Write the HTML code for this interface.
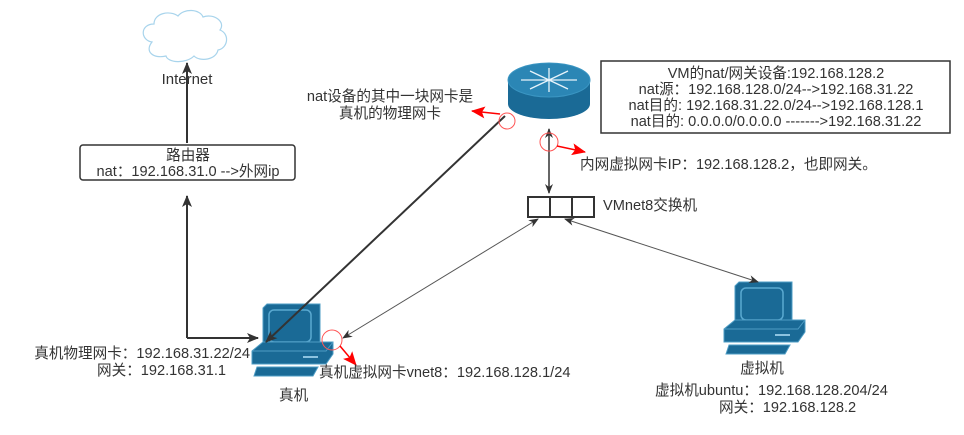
<!DOCTYPE html>
<html><head><meta charset="utf-8"><style>
body{margin:0;background:#fff;}
svg{display:block;}
text{font-family:"Liberation Sans","Noto Sans CJK SC",sans-serif;font-size:14.6px;fill:#333;}
</style></head><body>
<svg width="964" height="435" viewBox="0 0 964 435">
<defs>
<marker id="ak" markerWidth="10" markerHeight="10" refX="9" refY="5" orient="auto-start-reverse" markerUnits="userSpaceOnUse"><path d="M0,1 L10,5 L0,9 L3,5 Z" fill="#333"/></marker>
<marker id="akr" markerWidth="12" markerHeight="12" refX="11" refY="6" orient="auto" markerUnits="userSpaceOnUse"><path d="M0,1 L12,6 L0,11 L3,6 Z" fill="#333"/></marker>
<marker id="ar" markerWidth="14" markerHeight="12" refX="13" refY="6" orient="auto" markerUnits="userSpaceOnUse"><path d="M0,0 L14,6 L0,12 L3,6 Z" fill="#f00"/></marker>
<g id="pc">
<path d="M0,4 L4,0 L57,0 L57,40 L53,44 L0,44 Z" fill="#1a6a96" stroke="#4d9cc4" stroke-width="1"/>
<rect x="6" y="6" width="42" height="32" rx="5" fill="#1a6a96" stroke="#5aa9d1" stroke-width="1.5"/>
<path d="M-11,47 L0,38 L70,38 L70,50 L63,60 L-11,60 Z" fill="#1a6a96" stroke="#4d9cc4" stroke-width="1"/>
<path d="M-11,47 L63,47 L70,38" fill="none" stroke="#4d9cc4"/>
<rect x="40" y="52" width="15" height="2" fill="#8cc3e0"/>
<path d="M-9,72 L-6,63 L55,63 L50,72 Z" fill="#1a6a96" stroke="#4d9cc4"/>
</g>
</defs>
<path d="M152,42 C140,40 140,24 154,24 C154,13 170,10 178,16 C184,8 200,9 203,17 C214,13 226,22 220,30 C230,34 228,48 218,50 C216,60 200,62 194,56 C186,64 168,63 166,56 C154,59 144,52 152,42 Z" fill="#fff" stroke="#a8d4ec" stroke-width="1.2"/>
<text x="187" y="84" text-anchor="middle" style="font-size:15px">Internet</text>
<line x1="187" y1="143" x2="187" y2="63" stroke="#333" stroke-width="2" marker-end="url(#akr)"/>
<rect x="80" y="145" width="215" height="35" rx="3" fill="#fff" stroke="#333" stroke-width="1.5"/>
<text x="188" y="160" text-anchor="middle">路由器</text>
<text x="188" y="176" text-anchor="middle">nat：192.168.31.0 --&gt;外网ip</text>
<polyline points="187,338 187,196" fill="none" stroke="#333" stroke-width="2" marker-end="url(#akr)"/>
<path d="M508,80 L508,104 A41,15 0 0 0 590,104 L590,80 Z" fill="#1a6a96"/>
<ellipse cx="549" cy="80" rx="41" ry="17" fill="#2b86b5" stroke="#3a95c2"/>
<g stroke="#e8f4fb" stroke-width="1.3">
<line x1="521" y1="80" x2="577" y2="80"/><line x1="549" y1="68" x2="549" y2="92"/>
<line x1="530" y1="71" x2="568" y2="89"/><line x1="530" y1="89" x2="568" y2="71"/>
</g>
<use href="#pc" transform="translate(263,304)"/>
<use href="#pc" transform="translate(735,282)"/>
<line x1="187" y1="338" x2="258" y2="338" stroke="#333" stroke-width="2" marker-end="url(#akr)"/>
<line x1="505" y1="116" x2="266" y2="342" stroke="#333" stroke-width="2" marker-end="url(#akr)"/>
<circle cx="507" cy="121" r="8" fill="none" stroke="#f55" stroke-width="1"/>
<line x1="500" y1="114" x2="472" y2="111" stroke="#f00" stroke-width="1.5" marker-end="url(#ar)"/>
<text x="390" y="101" text-anchor="middle">nat设备的其中一块网卡是</text>
<text x="390" y="118" text-anchor="middle">真机的物理网卡</text>
<rect x="601" y="61" width="349" height="72" fill="#fff" stroke="#333" stroke-width="1.5"/>
<text x="776" y="78" text-anchor="middle">VM的nat/网关设备:192.168.128.2</text>
<text x="776" y="94" text-anchor="middle">nat源：192.168.128.0/24--&gt;192.168.31.22</text>
<text x="776" y="110" text-anchor="middle">nat目的: 192.168.31.22.0/24--&gt;192.168.128.1</text>
<text x="776" y="126" text-anchor="middle">nat目的:  0.0.0.0/0.0.0.0 -------&gt;192.168.31.22</text>
<line x1="549" y1="129" x2="549" y2="193" stroke="#333" stroke-width="1.5" marker-start="url(#ak)" marker-end="url(#ak)"/>
<circle cx="549" cy="142" r="9" fill="none" stroke="#f55" stroke-width="1"/>
<line x1="557" y1="146" x2="585" y2="152" stroke="#f00" stroke-width="1.5" marker-end="url(#ar)"/>
<text x="580" y="169">内网虚拟网卡IP：192.168.128.2，也即网关。</text>
<rect x="528" y="197" width="66" height="20" fill="#fff" stroke="#333" stroke-width="2"/>
<line x1="550" y1="197" x2="550" y2="217" stroke="#333" stroke-width="2"/>
<line x1="572" y1="197" x2="572" y2="217" stroke="#333" stroke-width="2"/>
<text x="603" y="210">VMnet8交换机</text>
<line x1="538" y1="219" x2="343" y2="338" stroke="#555" stroke-width="1" marker-start="url(#ak)" marker-end="url(#ak)"/>
<line x1="565" y1="219" x2="758" y2="282" stroke="#555" stroke-width="1" marker-start="url(#ak)" marker-end="url(#ak)"/>
<circle cx="332" cy="340" r="10" fill="none" stroke="#f55" stroke-width="1"/>
<line x1="340" y1="346" x2="356" y2="365" stroke="#f00" stroke-width="1.5" marker-end="url(#ar)"/>
<text x="250" y="358" text-anchor="end">真机物理网卡：192.168.31.22/24</text>
<text x="97" y="375">网关：192.168.31.1</text>
<text x="319" y="377">真机虚拟网卡vnet8：192.168.128.1/24</text>
<text x="279" y="400">真机</text>
<text x="762" y="373" text-anchor="middle">虚拟机</text>
<text x="655" y="395">虚拟机ubuntu：192.168.128.204/24</text>
<text x="719" y="412">网关：192.168.128.2</text>
</svg>
</body></html>
